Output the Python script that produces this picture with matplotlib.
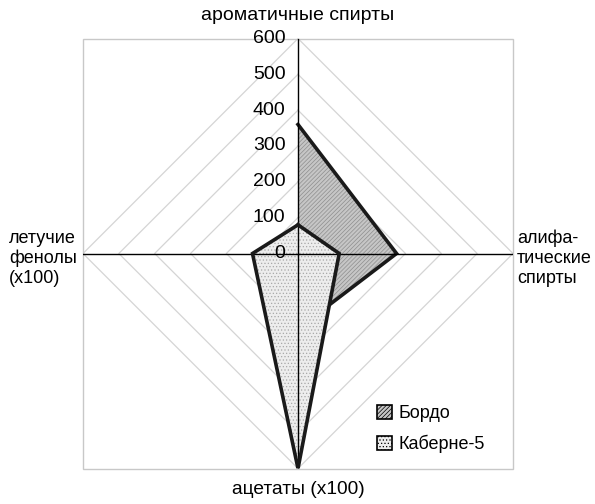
import numpy as np
import matplotlib
matplotlib.use('Agg')
import matplotlib.pyplot as plt
from matplotlib.patches import Patch, Rectangle

categories = ['ароматичные спирты', 'алифа-\nтические\nспирты',
              'ацетаты (x100)', 'летучие\nфенолы\n(x100)']
series_names = ['Бордо', 'Каберне-5']
bordo = [360, 275, 210, 0]
cabernet = [80, 115, 600, 127]
r_ticks = [0, 100, 200, 300, 400, 500, 600]

plt.rcParams['font.family'] = ['Liberation Sans', 'DejaVu Sans']
plt.rcParams['hatch.linewidth'] = 0.5


def closed(vals):
    return list(vals) + [vals[0]]


def main():
    fig = plt.figure(figsize=(5.95, 5.04), dpi=100)
    ax = fig.add_axes([83 / 595, 35 / 504, 430 / 595, 431 / 504], projection='polar')
    ax.set_theta_zero_location('N')
    ax.set_theta_direction(-1)
    ax.set_ylim(0, r_ticks[-1])
    ax.grid(False)
    ax.set_xticks([])
    ax.set_yticks([])
    ax.spines['polar'].set_visible(False)
    ax.patch.set_visible(False)

    n = len(categories)
    theta = np.arange(n) * 2 * np.pi / n
    th = closed(theta)

    # diamond gridlines
    for r in r_ticks[1:]:
        ax.plot(th, [r] * (n + 1), color='#d4d4d4', lw=0.9, zorder=1)

    # square frame around the plot area
    ax.add_patch(Rectangle((0, 0), 1, 1, transform=ax.transAxes, fill=False,
                           edgecolor='#c8c8c8', lw=1.0, clip_on=False, zorder=1))

    # Бордо: fill, then outline; the zero point sits on the spoke
    ax.fill(th, closed(bordo), facecolor='#c6c6c6', edgecolor='#8e8e8e',
            hatch='////////', lw=0, zorder=2)
    ax.plot(theta[:3], bordo[:3], color='#1a1a1a', lw=2.6, zorder=3,
            solid_joinstyle='miter')

    # Каберне-5 lies over Бордо
    ax.fill(th, closed(cabernet), facecolor='#ededed', edgecolor='#a8a8a8',
            hatch='.....', lw=0, zorder=4)

    # spokes
    for t in theta:
        ax.plot([t, t], [0, r_ticks[-1]], color='black', lw=1.0, zorder=5)

    ax.plot(th, closed(cabernet), color='#1a1a1a', lw=2.6, zorder=6,
            solid_joinstyle='miter')

    for r in r_ticks:
        ax.annotate(str(r), (0, r), xytext=(-9, 0), textcoords='offset points',
                    ha='right', va='center', fontsize=14, zorder=7)

    fig.text(298 / 595, 1 - 16 / 504, categories[0], ha='center', va='center',
             fontsize=14)
    fig.text(298 / 595, 1 - 489 / 504, categories[2], ha='center', va='center',
             fontsize=13.8)
    narrow = ['Liberation Sans Narrow', 'Liberation Sans', 'DejaVu Sans']
    fig.text(517 / 595, 1 - 230 / 504, categories[1], ha='left', va='top',
             fontsize=13, family=narrow, linespacing=1.2)
    fig.text(9 / 595, 1 - 230 / 504, categories[3], ha='left', va='top',
             fontsize=13, family=narrow, linespacing=1.2)

    handles = [
        Patch(facecolor='#c6c6c6', edgecolor='black', hatch='////////', lw=1.2),
        Patch(facecolor='#ededed', edgecolor='black', hatch='.....', lw=1.2),
    ]
    fig.legend(handles, series_names, loc='upper left',
               bbox_to_anchor=(361 / 595, 1 - 389 / 504), frameon=False,
               fontsize=13, handlelength=0.8, handleheight=0.8,
               handletextpad=0.4, labelspacing=0.7)

    fig.savefig('out.png', dpi=100)


if __name__ == '__main__':
    main()
